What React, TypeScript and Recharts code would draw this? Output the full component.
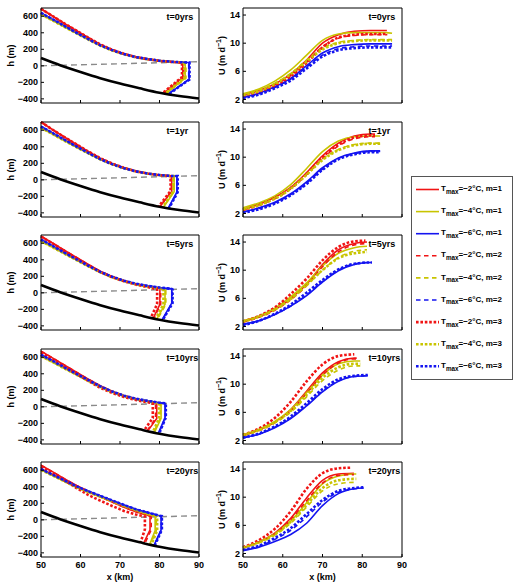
import React from "react";
import { LineChart, Line, XAxis, YAxis, Label } from "recharts";

// panel labels and axes
const TIME_LABELS = ["t=0yrs", "t=1yr", "t=5yrs", "t=10yrs", "t=20yrs"];
const X_TICKS = [50, 60, 70, 80, 90];
const H_TICKS = [-400, -200, 0, 200, 400, 600];
const U_TICKS = [2, 6, 10, 14];

// legend: T_max values and melt exponent m
const TMAX = ["−2", "−4", "−6"];
const MELT_EXP = [1, 2, 3];

// bed and sea level (km, m)
const BED_X = [50, 55, 60, 65, 70, 75, 80, 85, 90];
const BED_H = [95, 5, -75, -150, -215, -272, -325, -365, -395];
const SEA_X = [50, 90];
const SEA_H = [0, 50];

// ice surface heights (m) at SURF_X, one row per time panel
const SURF_X = [50, 53, 56, 59, 62, 65, 68, 71, 74, 77, 80, 83, 86];
const SURF_R = [
  [690, 600, 510, 425, 340, 258, 195, 145, 106, 80, 60, 48],
  [700, 605, 515, 428, 342, 262, 197, 145, 104, 76, 56, 46],
  [685, 600, 512, 427, 343, 262, 198, 148, 108, 78, 55],
  [675, 590, 503, 418, 335, 255, 190, 138, 97, 65],
  [660, 580, 495, 415, 345, 280, 215, 152, 98, 55],
];
const SURF_R3 = [
  [690, 600, 510, 425, 340, 258, 195, 145, 106, 80, 60, 48],
  [700, 605, 515, 428, 342, 262, 197, 145, 104, 76, 56, 46],
  [680, 595, 505, 418, 333, 252, 188, 140, 100, 70],
  [660, 575, 485, 398, 312, 230, 168, 120, 82, 55],
  [640, 560, 475, 385, 300, 232, 168, 108, 65],
];
const SURF_Y = [
  [625, 548, 470, 393, 318, 245, 186, 139, 103, 80, 60, 49, 41],
  [630, 552, 472, 395, 320, 247, 188, 139, 101, 75, 56, 46],
  [628, 550, 472, 396, 321, 248, 190, 142, 104, 77, 57],
  [615, 540, 463, 388, 314, 242, 182, 132, 95, 68, 48],
  [605, 535, 465, 395, 335, 280, 225, 168, 115, 70],
];
const SURF_B = [
  [640, 562, 480, 400, 322, 248, 190, 142, 106, 82, 62, 50, 42],
  [645, 565, 483, 403, 325, 250, 190, 141, 103, 76, 58, 47],
  [645, 565, 485, 405, 328, 254, 195, 147, 110, 84, 64, 48],
  [630, 555, 475, 398, 322, 248, 186, 135, 98, 72, 50],
  [615, 545, 475, 405, 345, 290, 235, 180, 128, 88, 50],
];

// calving front: [front x, top h, bottom of vertical face h, grounding x, grounding h]
// order: m=1 (R,Y,B), m=2 (R,Y,B), m=3 (R,Y,B)
const FRONT_T0 = [
  [85.9, 38, -140, 81.0, -333], [86.5, 40, -150, 81.6, -338], [87.5, 40, -165, 82.2, -343],
  [86.1, 38, -140, 81.1, -334], [86.7, 40, -150, 81.7, -339], [87.4, 40, -165, 82.1, -342],
  [85.7, 38, -135, 80.8, -331], [86.3, 40, -145, 81.4, -336], [87.6, 40, -165, 82.3, -344],
];
const FRONT_T1 = [
  [83.1, 44, -140, 80.1, -326], [83.7, 45, -145, 81.0, -333], [84.4, 46, -150, 82.2, -343],
  [83.0, 44, -140, 80.0, -325], [83.6, 45, -145, 80.9, -332], [84.5, 46, -150, 82.3, -344],
  [82.8, 44, -135, 79.8, -323], [83.5, 45, -140, 80.8, -331], [84.6, 46, -150, 82.4, -345],
];
const FRONT_T5 = [
  [80.1, 42, -140, 78.4, -309], [81.4, 42, -140, 79.3, -318], [83.1, 40, -125, 80.6, -330],
  [80.3, 42, -140, 78.5, -310], [81.6, 42, -140, 79.5, -320], [83.2, 40, -125, 80.7, -331],
  [79.4, 42, -135, 77.8, -303], [81.0, 42, -140, 79.0, -315], [83.3, 40, -125, 80.8, -332],
];
const FRONT_T10 = [
  [79.3, 42, -140, 77.0, -294], [80.4, 42, -140, 78.7, -312], [81.4, 42, -130, 79.7, -322],
  [79.0, 42, -140, 76.8, -292], [80.2, 42, -140, 78.5, -310], [81.5, 42, -130, 79.8, -323],
  [78.3, 42, -135, 76.1, -285], [79.9, 42, -140, 78.3, -308], [81.6, 42, -130, 79.9, -324],
];
const FRONT_T20 = [
  [77.6, 40, -120, 76.0, -283], [78.9, 42, -130, 77.5, -299], [80.4, 45, -120, 78.6, -310],
  [77.9, 40, -120, 76.3, -286], [79.2, 42, -130, 77.7, -301], [80.5, 45, -120, 78.7, -311],
  [76.3, 40, -115, 75.2, -274], [79.4, 42, -130, 77.9, -303], [80.6, 45, -120, 78.8, -312],
];
const FRONTS = [FRONT_T0, FRONT_T1, FRONT_T5, FRONT_T10, FRONT_T20];

// velocity (m/d) at U_X up to the front, last value sits at the front (U_END)
const U_X = [50, 54, 58, 62, 66, 70, 74, 78, 82, 86];
const U_END_T0 = [86.2, 87.5, 87.5, 86.3, 87.5, 87.5, 86.3, 87.5, 87.5];
const U_T0 = [
  [2.7, 3.3, 4.2, 5.6, 7.6, 10.0, 11.2, 11.7, 11.8, 11.8, 11.8],
  [2.8, 3.5, 4.6, 6.2, 8.3, 10.4, 11.3, 11.5, 11.5, 11.5, 11.4],
  [2.3, 2.9, 3.8, 5.0, 6.8, 8.6, 9.5, 9.8, 9.9, 9.9, 9.9],
  [2.6, 3.2, 4.1, 5.4, 7.3, 9.5, 10.7, 11.1, 11.2, 11.2, 11.2],
  [2.7, 3.3, 4.3, 5.7, 7.6, 9.3, 10.1, 10.4, 10.5, 10.5, 10.5],
  [2.3, 2.8, 3.7, 4.9, 6.6, 8.3, 9.2, 9.5, 9.6, 9.6, 9.6],
  [2.5, 3.1, 4.0, 5.3, 7.2, 9.4, 10.8, 11.2, 11.3, 11.3, 11.3],
  [2.6, 3.2, 4.2, 5.6, 7.4, 9.1, 10.0, 10.3, 10.4, 10.4, 10.4],
  [2.2, 2.7, 3.6, 4.7, 6.4, 8.1, 9.0, 9.3, 9.4, 9.4, 9.4],
];
const U_END_T1 = [83.2, 84.5, 84.5, 83.2, 84.5, 84.5, 83.2, 84.5, 84.5];
const U_T1 = [
  [2.6, 3.3, 4.3, 5.7, 7.8, 10.2, 12.0, 13.0, 13.3, 13.3],
  [2.8, 3.5, 4.5, 6.1, 8.4, 10.8, 12.3, 12.9, 13.0, 13.0],
  [2.2, 2.8, 3.6, 4.8, 6.5, 8.5, 9.9, 10.6, 10.9, 10.9],
  [2.5, 3.2, 4.1, 5.5, 7.5, 9.8, 11.6, 12.6, 12.9, 12.9],
  [2.6, 3.2, 4.2, 5.6, 7.6, 9.7, 11.1, 11.8, 12.0, 12.0],
  [2.2, 2.7, 3.5, 4.7, 6.3, 8.3, 9.8, 10.5, 10.8, 10.8],
  [2.5, 3.2, 4.2, 5.6, 7.6, 10.0, 11.8, 12.8, 13.1, 13.1],
  [2.6, 3.2, 4.1, 5.5, 7.5, 9.6, 11.0, 11.7, 11.9, 11.9],
  [2.1, 2.6, 3.4, 4.6, 6.2, 8.2, 9.7, 10.4, 10.7, 10.7],
];
const U_END_T5 = [81.2, 81.2, 82.4, 81.2, 81.2, 82.4, 80.8, 81.2, 82.4];
const U_T5 = [
  [2.7, 3.4, 4.4, 6.0, 8.0, 10.8, 12.9, 13.8, 14.0],
  [2.8, 3.5, 4.6, 6.2, 8.2, 10.6, 12.4, 13.2, 13.4],
  [2.3, 2.8, 3.7, 4.9, 6.4, 8.3, 9.9, 10.8, 11.1, 11.1],
  [2.6, 3.3, 4.3, 5.8, 7.8, 10.5, 12.6, 13.6, 13.8],
  [2.7, 3.4, 4.4, 5.9, 7.8, 10.0, 11.8, 12.7, 12.9],
  [2.3, 2.8, 3.7, 4.9, 6.5, 8.4, 10.0, 10.9, 11.1, 11.1],
  [2.7, 3.5, 4.7, 6.6, 8.8, 11.4, 13.3, 14.1, 14.2],
  [2.7, 3.4, 4.4, 5.9, 7.9, 10.0, 11.7, 12.4, 12.6],
  [2.2, 2.8, 3.8, 5.1, 6.8, 8.6, 10.1, 10.9, 11.1, 11.1],
];
const U_END_T10 = [78.6, 79.5, 81.4, 78.6, 79.5, 81.4, 78.0, 79.5, 81.4];
const U_T10 = [
  [2.7, 3.5, 4.6, 6.4, 9.0, 11.6, 13.2, 13.7, 13.7],
  [2.8, 3.6, 4.7, 6.4, 8.8, 11.3, 12.9, 13.3, 13.3],
  [2.4, 2.9, 3.8, 5.1, 6.9, 8.9, 10.4, 11.1, 11.2],
  [2.7, 3.4, 4.5, 6.2, 8.7, 11.3, 13.0, 13.6, 13.6],
  [2.7, 3.4, 4.5, 6.0, 8.2, 10.5, 12.0, 12.6, 12.6],
  [2.4, 2.9, 3.9, 5.2, 7.0, 9.0, 10.5, 11.1, 11.2],
  [2.8, 3.7, 5.2, 7.5, 10.4, 12.8, 14.0, 14.25],
  [2.8, 3.5, 4.6, 6.2, 8.5, 10.9, 12.4, 12.9, 12.9],
  [2.4, 3.0, 4.0, 5.4, 7.3, 9.3, 10.7, 11.2, 11.3],
];
const U_END_T20 = [77.9, 78.5, 80.3, 77.9, 78.5, 80.3, 77.4, 78.5, 80.3];
const U_T20 = [
  [2.8, 3.6, 4.9, 7.0, 9.9, 12.4, 13.3, 13.4],
  [2.8, 3.6, 4.8, 6.6, 9.2, 11.9, 13.0, 13.3, 13.3],
  [2.4, 2.9, 3.7, 4.7, 6.3, 8.8, 10.5, 11.2, 11.3],
  [2.8, 3.6, 4.8, 6.8, 9.5, 12.0, 13.1, 13.2],
  [2.8, 3.5, 4.6, 6.3, 8.6, 10.9, 11.9, 12.1, 12.1],
  [2.5, 3.0, 4.0, 5.3, 7.2, 9.3, 10.7, 11.2, 11.3],
  [2.9, 3.9, 5.5, 8.0, 11.2, 13.4, 14.1, 14.2],
  [2.8, 3.6, 4.7, 6.5, 8.9, 11.3, 12.4, 12.6, 12.6],
  [2.5, 3.1, 4.2, 5.6, 7.6, 9.6, 10.9, 11.3, 11.4],
];
const U_ENDS = [U_END_T0, U_END_T1, U_END_T5, U_END_T10, U_END_T20];
const U_VALS = [U_T0, U_T1, U_T5, U_T10, U_T20];

const COLORS = ["#f01414", "#c8c400", "#1414f0"];
const STYLES = [
  { width: 1.6, dash: undefined as string | undefined },
  { width: 1.6, dash: "4.5 3.5" },
  { width: 2.6, dash: "2.6 1.8" },
];

const SERIES = MELT_EXP.flatMap((m, mi) =>
  TMAX.map((t, ti) => ({
    key: `m${m}_${ti}`,
    tmax: t,
    m,
    ti,
    color: COLORS[ti],
    width: STYLES[mi].width,
    dash: STYLES[mi].dash,
  }))
);

const FONT = "'Liberation Sans', Arial, Helvetica, sans-serif";
const ROW_TOP = [8, 122, 235, 349, 462];
const PLOT_H = 95;
const PAD_T = 6;
const PAD_B = 26;

const pairs = (xs: number[], ys: number[]) => xs.map((x, i) => ({ x, y: ys[i] }));
const bedData = pairs(BED_X, BED_H);
const seaData = pairs(SEA_X, SEA_H);

function surfaceFor(p: number, s: (typeof SERIES)[number]) {
  if (s.ti === 0) return s.m === 3 ? SURF_R3[p] : SURF_R[p];
  return s.ti === 1 ? SURF_Y[p] : SURF_B[p];
}

function profile(p: number, si: number) {
  const s = SERIES[si];
  const [tx, top, mid, gx, gh] = FRONTS[p][si];
  const pts: { x: number; y: number }[] = [];
  surfaceFor(p, s).forEach((h, i) => {
    if (SURF_X[i] < tx) pts.push({ x: SURF_X[i], y: h });
  });
  pts.push({ x: tx, y: top }, { x: tx, y: mid }, { x: gx, y: gh });
  return pts;
}

function velocity(p: number, si: number) {
  const vals = U_VALS[p][si];
  const end = U_ENDS[p][si];
  const pts: { x: number; y: number }[] = [];
  vals.slice(0, -1).forEach((u, i) => {
    if (U_X[i] < end) pts.push({ x: U_X[i], y: u });
  });
  pts.push({ x: end, y: vals[vals.length - 1] });
  return pts;
}

const fmt = (v: number) => (v < 0 ? `−${Math.abs(v)}` : `${v}`);
const txt = { fontFamily: FONT, fontWeight: "bold" as const, fill: "#000" };

const tickLeft = (props: any) => {
  const { x, y, payload } = props;
  return (
    <g>
      <line x1={x} x2={x + 3} y1={y} y2={y} stroke="#000" />
      <text x={x - 3} y={y} dy="0.35em" textAnchor="end" fontSize={9} {...txt}>
        {fmt(payload.value)}
      </text>
    </g>
  );
};
const tickRight = (props: any) => (
  <line x1={props.x - 3} x2={props.x} y1={props.y} y2={props.y} stroke="#000" />
);
const tickTop = (props: any) => (
  <line x1={props.x} x2={props.x} y1={props.y} y2={props.y + 3} stroke="#000" />
);
const tickBottom = (show: boolean) => (props: any) => {
  const { x, y, payload } = props;
  return (
    <g>
      <line x1={x} x2={x} y1={y - 3} y2={y} stroke="#000" />
      {show && (
        <text x={x} y={y + 8} dy="0.35em" textAnchor="middle" fontSize={9} {...txt}>
          {fmt(payload.value)}
        </text>
      )}
    </g>
  );
};

function Panel({ p, kind }: { p: number; kind: "h" | "u" }) {
  const isH = kind === "h";
  const last = p === TIME_LABELS.length - 1;
  const left = isH ? 41 : 38;
  const plotW = isH ? 158 : 159;
  const divLeft = isH ? 0 : 205;
  const axis = { stroke: "#000", strokeWidth: 1 };
  // axes are 1px thick, so the margins are one less than the plot offsets
  return (
    <div style={{ position: "absolute", left: divLeft, top: ROW_TOP[p] - PAD_T }}>
      <LineChart
        width={left + plotW + 12}
        height={PAD_T + PLOT_H + PAD_B}
        margin={{ top: PAD_T - 1, right: 11, bottom: PAD_B - 1, left: left - 1 }}
      >
        <XAxis
          xAxisId="b"
          type="number"
          dataKey="x"
          domain={[50, 90]}
          ticks={X_TICKS}
          interval={0}
          height={1}
          tickSize={0}
          tickMargin={0}
          tickLine={false}
          axisLine={axis}
          tick={tickBottom(last)}
        >
          {last && (
            <Label
              content={(lp: any) => {
                const vb = lp.viewBox;
                return (
                  <text x={vb.x + vb.width / 2} y={vb.y + 20} dy="0.35em" textAnchor="middle" fontSize={9} {...txt}>
                    x (km)
                  </text>
                );
              }}
            />
          )}
        </XAxis>
        <XAxis
          xAxisId="t"
          orientation="top"
          type="number"
          dataKey="x"
          domain={[50, 90]}
          ticks={X_TICKS}
          interval={0}
          height={1}
          tickSize={0}
          tickMargin={0}
          tickLine={false}
          axisLine={axis}
          tick={tickTop}
        >
          <Label
            content={(lp: any) => {
              const vb = lp.viewBox;
              return (
                <text x={vb.x + 125.5} y={vb.y + vb.height + 8.5} dy="0.35em" fontSize={9} {...txt}>
                  {TIME_LABELS[p]}
                </text>
              );
            }}
          />
        </XAxis>
        <YAxis
          yAxisId="l"
          type="number"
          domain={isH ? [-450, 700] : [1.5, 15]}
          ticks={isH ? H_TICKS : U_TICKS}
          interval={0}
          width={1}
          tickSize={0}
          tickMargin={0}
          tickLine={false}
          axisLine={axis}
          tick={tickLeft}
        >
          <Label
            content={(lp: any) => {
              const vb = lp.viewBox;
              const cx = vb.x + vb.width - (isH ? 30 : 21);
              const cy = vb.y + vb.height / 2;
              return (
                <text transform={`translate(${cx},${cy}) rotate(-90)`} textAnchor="middle" dy="0.35em" fontSize={9} {...txt}>
                  {isH ? (
                    "h (m)"
                  ) : (
                    <>
                      <tspan>U (m d</tspan>
                      <tspan dy={-4} fontSize={7}>−1</tspan>
                      <tspan dy={4}>)</tspan>
                    </>
                  )}
                </text>
              );
            }}
          />
        </YAxis>
        <YAxis
          yAxisId="r"
          orientation="right"
          type="number"
          domain={isH ? [-450, 700] : [1.5, 15]}
          ticks={isH ? H_TICKS : U_TICKS}
          interval={0}
          width={1}
          tickSize={0}
          tickMargin={0}
          tickLine={false}
          axisLine={axis}
          tick={tickRight}
        />
        {isH && (
          <Line
            xAxisId="b"
            yAxisId="l"
            data={seaData}
            dataKey="y"
            type="linear"
            stroke="#8a8a8a"
            strokeWidth={1.4}
            strokeDasharray="6 4"
            dot={false}
            activeDot={false}
            isAnimationActive={false}
          />
        )}
        {SERIES.map((s, si) => (
          <Line
            key={s.key}
            xAxisId="b"
            yAxisId="l"
            data={isH ? profile(p, si) : velocity(p, si)}
            dataKey="y"
            type={isH ? "linear" : "monotone"}
            stroke={s.color}
            strokeWidth={s.width}
            strokeDasharray={s.dash}
            dot={false}
            activeDot={false}
            isAnimationActive={false}
          />
        ))}
        {isH && (
          <Line
            xAxisId="b"
            yAxisId="l"
            data={bedData}
            dataKey="y"
            type="monotone"
            stroke="#000"
            strokeWidth={2.6}
            dot={false}
            activeDot={false}
            isAnimationActive={false}
          />
        )}
      </LineChart>
    </div>
  );
}

function LegendBox() {
  return (
    <svg
      width={102}
      height={204}
      style={{ position: "absolute", left: 410.5, top: 175.5 }}
    >
      <rect x={0.5} y={0.5} width={101} height={203} fill="#fff" stroke="#555" />
      {SERIES.map((s, i) => {
        const y = 13.5 + i * 22.1;
        return (
          <g key={s.key}>
            <line x1={5} x2={28} y1={y} y2={y} stroke={s.color} strokeWidth={s.width} strokeDasharray={s.dash} />
            <text x={30} y={y} dy="0.2em" fontSize={8} {...txt}>
              <tspan>T</tspan>
              <tspan fontSize={6.3} dy={2.8}>max</tspan>
              <tspan dy={-2.8}>{`=${s.tmax}°C, m=${s.m}`}</tspan>
            </text>
          </g>
        );
      })}
    </svg>
  );
}

export default function App() {
  return (
    <div
      style={{
        position: "absolute",
        left: 0,
        top: 0,
        width: 516,
        height: 582,
        background: "#fff",
        fontFamily: FONT,
      }}
    >
      {TIME_LABELS.map((_, p) => (
        <React.Fragment key={p}>
          <Panel p={p} kind="h" />
          <Panel p={p} kind="u" />
        </React.Fragment>
      ))}
      <LegendBox />
    </div>
  );
}
